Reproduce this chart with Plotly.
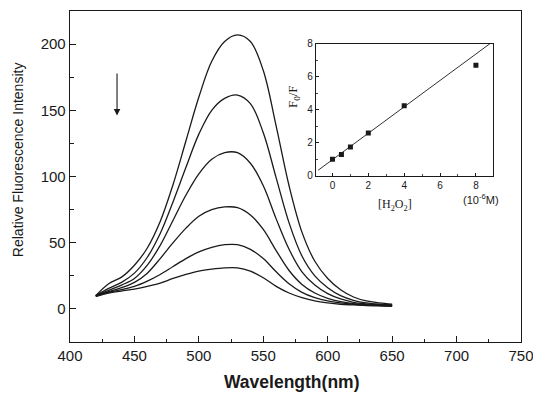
import plotly.graph_objects as go

wavelength = [420, 430, 440, 450, 460, 470, 480, 490, 500, 510, 520, 530,
              540, 550, 560, 570, 580, 590, 600, 610, 620, 630, 640, 650]

curve1 = [10, 19, 24, 33, 46, 66, 94, 127, 160, 187, 202, 207,
          202, 180, 138, 93, 58, 36, 23, 14.5, 9, 6, 4.5, 3.5]
curve2 = [10, 15.5, 20, 27, 39, 57, 81, 107, 132, 150, 159, 161.5,
          155, 133, 99, 65, 40, 25, 16, 10, 6.5, 4.5, 3.5, 3]
curve3 = [10, 14, 18, 23, 33, 48, 67, 86, 102, 113, 118, 118,
          110, 93, 68, 45, 28, 18, 11.5, 7.5, 5, 3.8, 3, 2.6]
curve4 = [10, 13, 16, 20, 27, 38, 50, 61, 70, 75, 77, 76.5,
          71, 60, 44, 29, 18.5, 12, 8, 5.5, 4, 3.2, 2.7, 2.4]
curve5 = [9.5, 12.5, 14.5, 17, 21, 26, 32, 38, 43, 46.5, 48.5, 48.5,
          45, 38, 28, 19, 12.5, 8.5, 6, 4.5, 3.5, 3, 2.5, 2.3]
curve6 = [9.5, 12, 13.5, 15, 17, 19.5, 23, 26, 28.5, 30, 31, 31,
          28.5, 23.5, 17, 12, 8.5, 6, 4.5, 3.5, 3, 2.5, 2.3, 2]
curves = [curve1, curve2, curve3, curve4, curve5, curve6]

h2o2_conc = [0, 0.5, 1, 2, 4, 8]
f0_over_f = [1.0, 1.3, 1.75, 2.6, 4.25, 6.7]
fit_x = [-0.8, 8.8]
fit_y = [0.34, 8.02]

x_ticks = [400, 450, 500, 550, 600, 650, 700, 750]
y_ticks = [0, 50, 100, 150, 200]
inset_x_ticks = [0, 2, 4, 6, 8]
inset_y_ticks = [0, 2, 4, 6, 8]

INK = "#1a1a1a"
SANS = "Liberation Sans, Arial, sans-serif"
SERIF = "Liberation Serif, Times New Roman, serif"

fig = go.Figure()
for c in curves:
    fig.add_trace(go.Scatter(x=wavelength, y=c, mode="lines", line_shape="spline",
                             line=dict(color=INK, width=1.3), showlegend=False,
                             hoverinfo="skip", xaxis="x", yaxis="y"))

fig.add_trace(go.Scatter(x=fit_x, y=fit_y, mode="lines",
                         line=dict(color=INK, width=0.9), showlegend=False,
                         hoverinfo="skip", xaxis="x2", yaxis="y2"))
fig.add_trace(go.Scatter(x=h2o2_conc, y=f0_over_f, mode="markers",
                         marker=dict(symbol="square", size=5, color=INK),
                         showlegend=False, hoverinfo="skip",
                         xaxis="x2", yaxis="y2"))

fig.update_layout(
    width=533, height=395,
    margin=dict(l=70, r=12, t=11, b=53, autoexpand=False),
    paper_bgcolor="white", plot_bgcolor="white",
    font=dict(family=SANS, color=INK),
    xaxis=dict(range=[400, 750], tickvals=x_ticks, ticks="inside", ticklen=6,
               tickwidth=1.2, tickcolor=INK, showline=True, linecolor=INK,
               linewidth=1.3, mirror=True, showgrid=False, zeroline=False,
               automargin=False, ticklabeloverflow="allow",
               tickfont=dict(size=15, family=SANS),
               minor=dict(dtick=25, tick0=400, ticks="inside", ticklen=3.5,
                          tickcolor=INK, tickwidth=1.1)),
    yaxis=dict(range=[-25, 225], tickvals=y_ticks, ticks="inside", ticklen=6,
               tickwidth=1.2, tickcolor=INK, showline=True, linecolor=INK,
               linewidth=1.3, mirror=True, showgrid=False, zeroline=False,
               automargin=False, tickfont=dict(size=15, family=SANS),
               minor=dict(dtick=25, tick0=0, ticks="inside", ticklen=3.5,
                          tickcolor=INK, tickwidth=1.1)),
    xaxis2=dict(domain=[0.545, 0.9386], anchor="y2", range=[-0.93, 8.97],
                tickvals=inset_x_ticks, ticks="inside", ticklen=3, tickwidth=1,
                tickcolor=INK, showline=True, linecolor=INK, linewidth=1,
                mirror=True, showgrid=False, zeroline=False, automargin=False,
                tickfont=dict(size=10, family=SANS),
                minor=dict(dtick=1, tick0=0, ticks="inside", ticklen=2,
                           tickcolor=INK, tickwidth=0.8)),
    yaxis2=dict(domain=[0.502, 0.901], anchor="x2", range=[0, 8],
                tickvals=inset_y_ticks, ticks="inside", ticklen=3, tickwidth=1,
                tickcolor=INK, showline=True, linecolor=INK, linewidth=1,
                mirror=True, showgrid=False, zeroline=False, automargin=False,
                tickfont=dict(size=10, family=SANS),
                minor=dict(dtick=1, tick0=0, ticks="inside", ticklen=2,
                           tickcolor=INK, tickwidth=0.8)),
)

def px(x):
    return (x - 70) / 451

def py(y):
    return (341.7 - y) / 330.7

annotations = [
    dict(text="<b>Wavelength(nm)</b>", x=px(291), y=py(382),
         font=dict(size=17.5, family=SANS, color=INK)),
    dict(text="Relative Fluorescence Intensity", x=px(18), y=py(160),
         textangle=-90, font=dict(size=14, family=SANS, color=INK)),
    dict(text="F<sub>0</sub>/F", x=px(293), y=py(97),
         textangle=-90, font=dict(size=13, family=SERIF, color=INK)),
    dict(text="[H<sub>2</sub>O<sub>2</sub>]", x=px(395), y=py(205),
         font=dict(size=12, family=SERIF, color=INK)),
    dict(text="(10<sup>-6</sup>M)", x=px(481), y=py(199),
         font=dict(size=11, family=SANS, color=INK)),
]
for a in annotations:
    a.update(xref="paper", yref="paper", showarrow=False,
             xanchor="center", yanchor="middle")
annotations.append(
    dict(x=436.5, y=146, ax=436.5, ay=179, xref="x", yref="y",
         axref="x", ayref="y", showarrow=True, arrowhead=2, arrowsize=1.2,
         arrowwidth=1.1, arrowcolor=INK, text=""))
fig.update_layout(annotations=annotations)

fig.write_html("out.html",
               config={"displayModeBar": False, "staticPlot": True},
               post_script="document.body.style.margin='0';"
                           "document.body.style.overflow='hidden';")
